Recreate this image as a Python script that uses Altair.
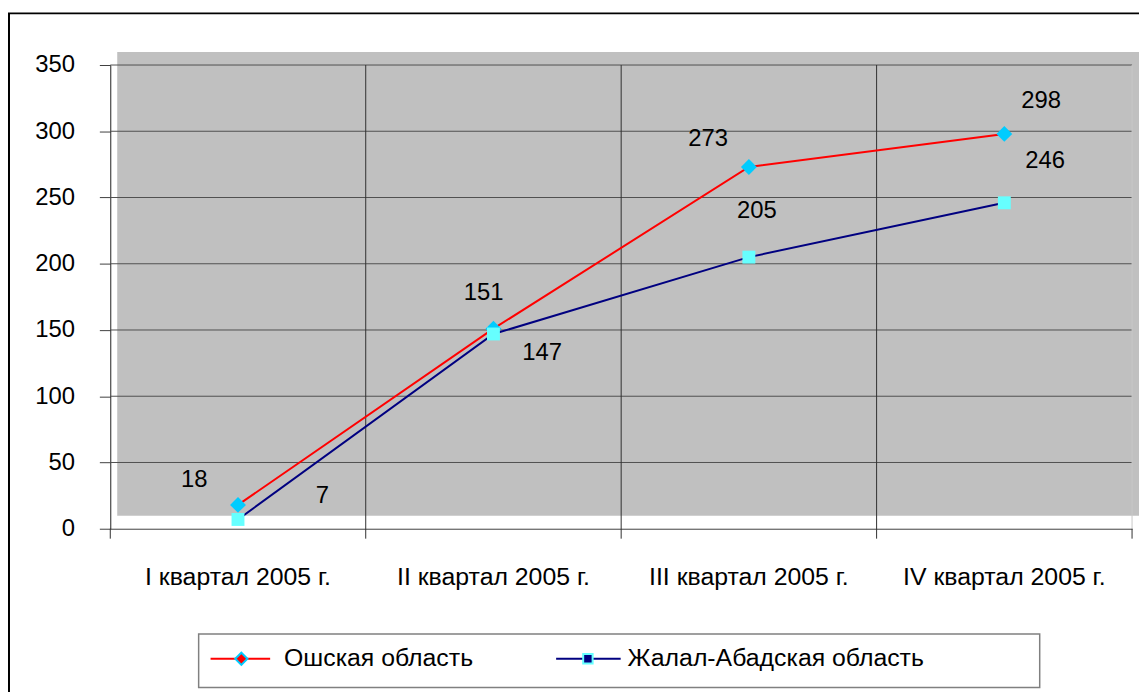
import altair as alt
import pandas as pd

quarters = ["I квартал 2005 г.", "II квартал 2005 г.", "III квартал 2005 г.", "IV квартал 2005 г."]
series_names = ["Ошская область", "Жалал-Абадская область"]
osh_values = [18, 151, 273, 298]
jalal_values = [7, 147, 205, 246]
y_ticks = [0, 50, 100, 150, 200, 250, 300, 350]

# label offsets (pixels), styling only
osh_label_offsets = [(-44, -25), (-10, -36), (-41, -28), (37, -33)]
jalal_label_offsets = [(85, -24), (49, 19), (8, -46), (41, -42)]

W, H = 1029, 467
FONT = "Liberation Sans"
FS_NUM = 24
FS_TXT = 25

rows = []
for q, v in zip(quarters, osh_values):
    rows.append({"quarter": q, "series": series_names[0], "value": v})
for q, v in zip(quarters, jalal_values):
    rows.append({"quarter": q, "series": series_names[1], "value": v})
df = pd.DataFrame(rows)

xscale = alt.Scale(type="band", domain=quarters, paddingInner=0, paddingOuter=0)
yscale = alt.Scale(domain=[0, 350], nice=False, zero=True)

x_enc = alt.X("quarter:N", scale=xscale, sort=quarters,
              axis=alt.Axis(title=None, labelAngle=0, labelFontSize=FS_TXT, labelFont=FONT,
                            labelColor="black", ticks=False, labelAlign="center",
                            labelBaseline="middle",
                            domainColor="#404040", labelPadding=48,
                            labelLimit=400, grid=False))
y_enc = alt.Y("value:Q", scale=yscale,
              axis=alt.Axis(title=None, values=y_ticks, labelFontSize=FS_NUM, labelFont=FONT,
                            labelColor="black", tickSize=11, tickColor="#404040",
                            domainColor="#202020", labelPadding=25, grid=False))

one = pd.DataFrame({"a": [0]})

# outer frame
frame = alt.Chart(one).mark_rect(fill="transparent", stroke="black", strokeWidth=2).encode(
    x=alt.value(-102), x2=alt.value(W + 40), y=alt.value(-52), y2=alt.value(H + 200))

# shifted gray plot background
gray = alt.Chart(one).mark_rect(fill="#C0C0C0").encode(
    x=alt.value(7), x2=alt.value(W + 20), y=alt.value(-13), y2=alt.value(H - 13))

ygrid = alt.Chart(pd.DataFrame({"value": y_ticks[1:]})).mark_rule(color="#505050", strokeWidth=1).encode(
    y=alt.Y("value:Q", scale=yscale), x=alt.value(0), x2=alt.value(W))

xgrid = alt.Chart(pd.DataFrame({"quarter": quarters[1:]})).mark_rule(color="#303030", strokeWidth=1).encode(
    x=alt.X("quarter:N", scale=xscale, sort=quarters, bandPosition=0),
    y=alt.value(0), y2=alt.value(H + 10))

right_edge = alt.Chart(one).mark_rule(color="#C8C8C8", strokeWidth=1).encode(
    x=alt.value(W), y=alt.value(0), y2=alt.value(H))
right_tick = alt.Chart(one).mark_rule(color="#303030", strokeWidth=1).encode(
    x=alt.value(W), y=alt.value(H), y2=alt.value(H + 10))
left_tick = alt.Chart(one).mark_rule(color="#303030", strokeWidth=1).encode(
    x=alt.value(0), y=alt.value(H), y2=alt.value(H + 10))

color_scale = alt.Scale(domain=series_names, range=["#FF0000", "#000080"])

lines = alt.Chart(df).mark_line(strokeWidth=2).encode(
    x=x_enc, y=y_enc,
    color=alt.Color("series:N", scale=color_scale, legend=None),
    detail="series:N")

osh_pts = alt.Chart(df).transform_filter(alt.datum.series == series_names[0]).mark_point(
    shape="diamond", filled=True, size=256, color="#00CCFF", opacity=1).encode(
    x=alt.X("quarter:N", scale=xscale, sort=quarters), y=alt.Y("value:Q", scale=yscale))
jal_pts = alt.Chart(df).transform_filter(alt.datum.series == series_names[1]).mark_point(
    shape="square", filled=True, size=169, color="#66FFFF", opacity=1).encode(
    x=alt.X("quarter:N", scale=xscale, sort=quarters), y=alt.Y("value:Q", scale=yscale))

labels = []
for sname, offs in [(series_names[0], osh_label_offsets), (series_names[1], jalal_label_offsets)]:
    for q, (dx, dy) in zip(quarters, offs):
        labels.append(
            alt.Chart(df).transform_filter(
                (alt.datum.series == sname) & (alt.datum.quarter == q)
            ).mark_text(font=FONT, fontSize=FS_NUM, color="black", dx=dx, dy=dy,
                        align="center", baseline="middle").encode(
                x=alt.X("quarter:N", scale=xscale, sort=quarters),
                y=alt.Y("value:Q", scale=yscale),
                text="value:Q"))

# legend (decorative)
leg_box = alt.Chart(one).mark_rect(fill="white", stroke="#808080", strokeWidth=1.5).encode(
    x=alt.value(89), x2=alt.value(936), y=alt.value(573), y2=alt.value(627))
leg_df = pd.DataFrame({"series": series_names})
leg_items = []
for i, (lx1, lx2, mx, tx, col, shape, fill, stroke, sz) in enumerate([
    (101, 161, 132, 175, "#FF0000", "diamond", "#FF0000", "#00CCFF", 150),
    (449, 514, 481, 521, "#000080", "square", "#000080", "#66FFFF", 90),
]):
    sub = leg_df.iloc[[i]]
    leg_items.append(alt.Chart(sub).mark_rule(color=col, strokeWidth=2).encode(
        x=alt.value(lx1), x2=alt.value(lx2), y=alt.value(598)))
    leg_items.append(alt.Chart(sub).mark_point(shape=shape, filled=True, fill=fill, stroke=stroke,
                                               strokeWidth=2, size=sz, opacity=1).encode(
        x=alt.value(mx), y=alt.value(598)))
    leg_items.append(alt.Chart(sub).mark_text(font=FONT, fontSize=FS_TXT, color="black",
                                              align="left", baseline="middle").encode(
        x=alt.value(tx), y=alt.value(597), text="series:N"))

chart = alt.layer(
    frame, gray, ygrid, xgrid, right_edge, right_tick, left_tick, lines, osh_pts, jal_pts, *labels,
    leg_box, *leg_items
).properties(
    width=W, height=H,
    padding={"left": 103, "top": 55, "right": 7, "bottom": 162},
    autosize="none",
    background="white",
).configure_view(stroke=None)

chart.save("out.html", embed_options={"renderer": "svg", "actions": False})
